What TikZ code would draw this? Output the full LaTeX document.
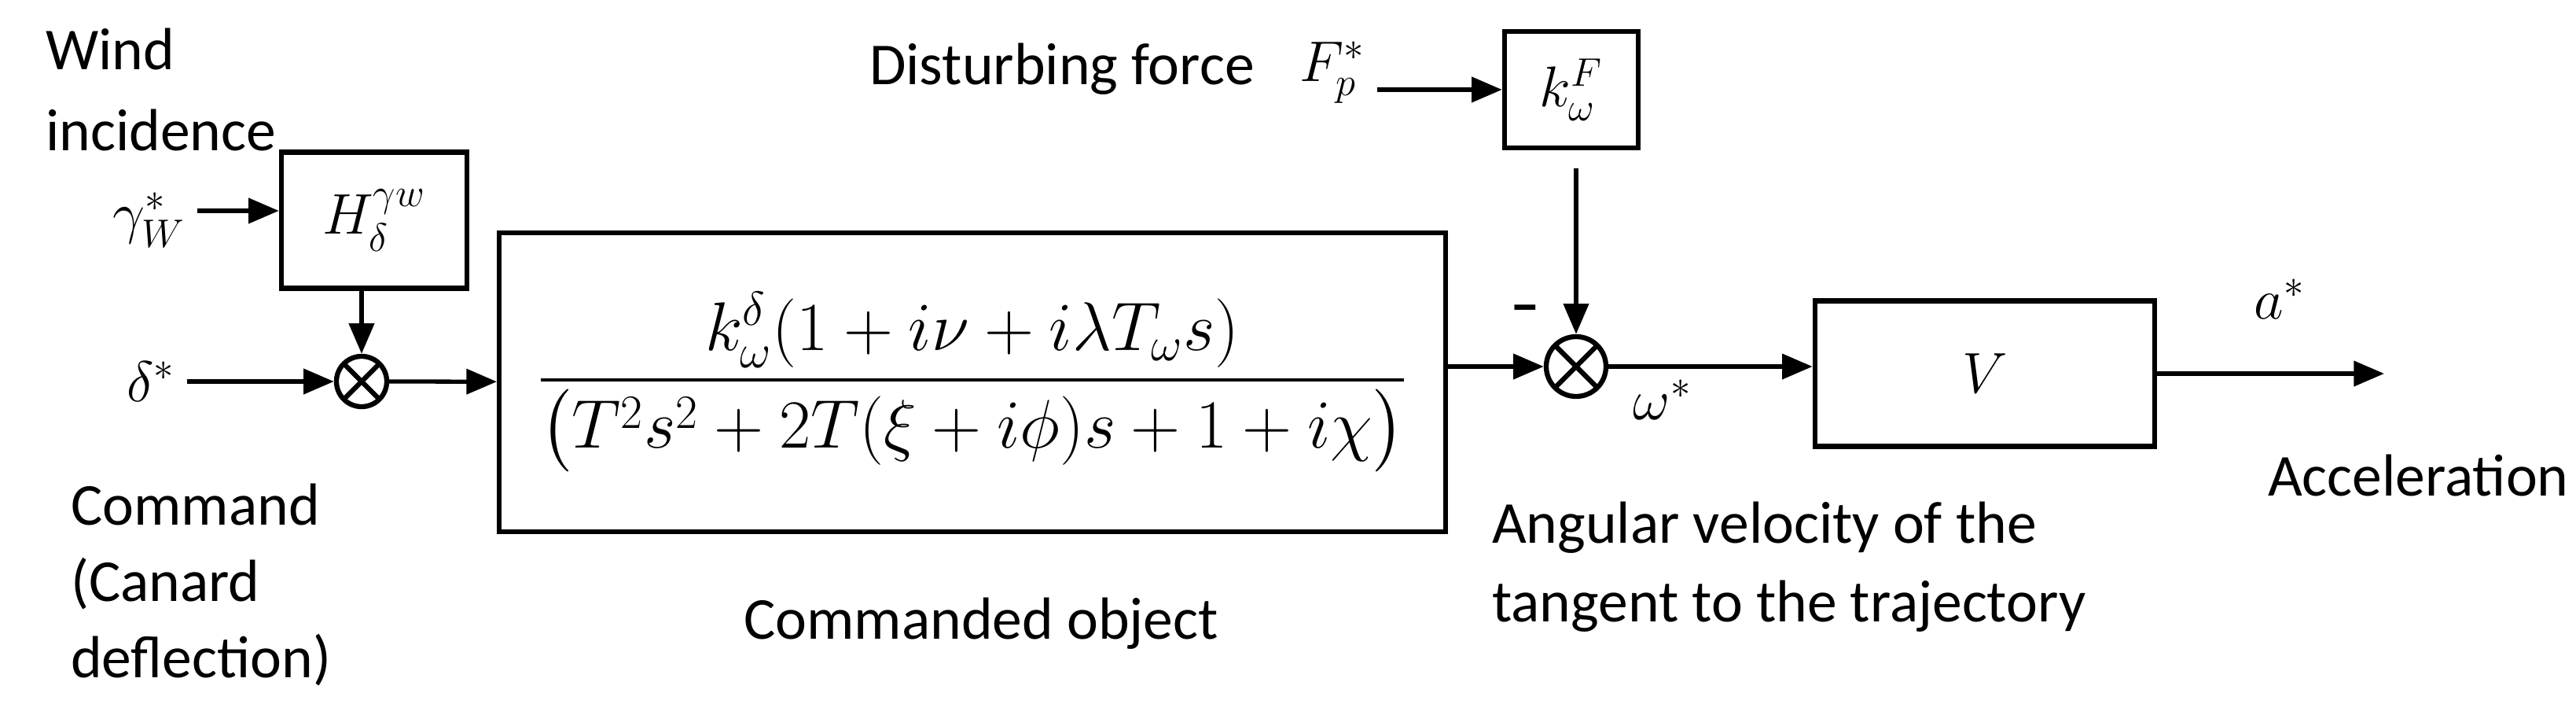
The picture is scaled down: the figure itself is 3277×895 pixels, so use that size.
\documentclass[tikz,border=0pt]{standalone}
\usepackage{amsmath}
\usepackage{fontspec}
\setmainfont{Carlito}
\usetikzlibrary{arrows.meta}
\begin{document}
\begin{tikzpicture}[x=0.01cm,y=-0.01cm,line width=1.8pt,
    every node/.style={font=\fontsize{21.5}{26}\selectfont},
    blk/.style={draw,line width=1.8pt,inner sep=0pt},
    sum/.style={draw,line width=1.8pt,circle,inner sep=0pt,path picture={
        \draw[line width=1.8pt] (path picture bounding box.north west)--(path picture bounding box.south east)
          (path picture bounding box.south west)--(path picture bounding box.north east);}},
    sig/.style={-{Triangle[length=11pt,width=9pt]},line width=1.5pt},
    txt/.style={anchor=west,inner sep=0pt}]
\useasboundingbox (0,0) rectangle (3277,895);
% inputs
\node[txt] at (55,63) {Wind};
\node[txt] at (55,166) {incidence};
\node (gw) at (190,280) {$\gamma_W^*$};
\node (ds) at (192,485) {$\delta^*$};
\node[blk,minimum width=2.36cm,minimum height=1.73cm] (H) at (476,280) {$H_\delta^{\gamma w}$};
\node[sum,minimum size=0.64cm] (s1) at (460,485) {};
\draw[sig] (gw.east |- 0,268) -- (H.west |- 0,268);
\draw[sig] (ds) -- (s1);
\draw[sig] (H.south -| s1) -- (s1);
% commanded object
\node[blk,minimum width=12.03cm,minimum height=3.8cm] (G) at (1237,486)
  {\fontsize{23}{28}\selectfont$\dfrac{k_\omega^\delta(1+i\nu+i\lambda T_\omega s)}{\bigl(T^2s^2+2T(\xi+i\phi)s+1+i\chi\bigr)}$};
\draw[sig] (s1) -- (G);
% disturbance
\node[txt] at (1103,88) {Disturbing force};
\node (Fp) at (1695,92) {$F_p^*$};
\node[blk,minimum width=1.7cm,minimum height=1.48cm] (kF) at (1999,114) {$k_\omega^F$};
\node[sum,minimum size=0.76cm] (s2) at (2005,466) {};
\draw[sig] (Fp.east |- kF) -- (kF);
\draw[sig,shorten <=23pt*0+0.23cm] (kF.south -| s2) -- (s2);
\draw[sig] (G.east |- s2) -- (s2);
\node at (1940,400) {\textbf{--}};
\node at (2115,508) {$\omega^*$};
% output
\node[blk,minimum width=4.32cm,minimum height=1.85cm] (V) at (2525,475) {$V$};
\coordinate (out) at (3033,475);
\draw[sig] (s2) -- (V.west |- s2);
\draw[sig] (V) -- (out);
\node at (2900,380) {$a^*$};
\node[txt] at (2882,605) {Acceleration};
% captions
\node[txt] at (87,642) {Command};
\node[txt] at (87,742) {(Canard};
\node[txt] at (87,839) {deflection)};
\node at (1248,793) {Commanded object};
\node[txt] at (1895,671) {Angular velocity of the};
\node[txt] at (1895,771) {tangent to the trajectory};
\end{tikzpicture}
\end{document}
